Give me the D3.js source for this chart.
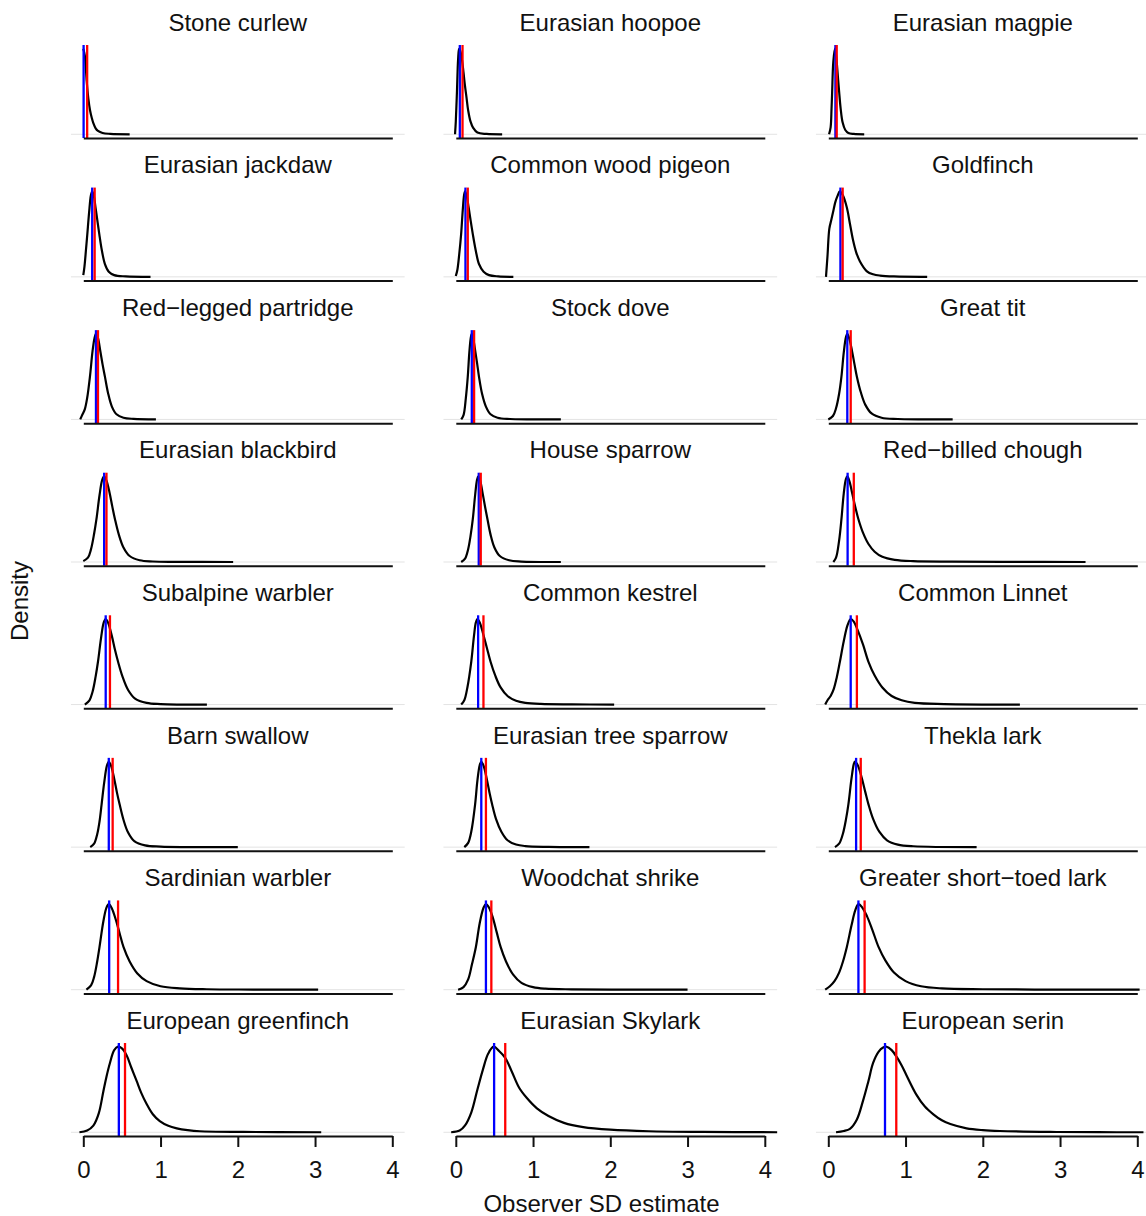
<!DOCTYPE html>
<html>
<head>
<meta charset="utf-8">
<script src="https://cdn.jsdelivr.net/npm/d3@7"></script>
<style>
  html, body { margin: 0; padding: 0; background: #fff; }
  svg { display: block; }
  text { font-family: "Liberation Sans", Arial, Helvetica, sans-serif; fill: #111; }
</style>
</head>
<body>
<svg id="chart" width="1146" height="1216"></svg>
<script>
// Species, in panel order (row by row, three per row)
const species = [
  "Stone curlew", "Eurasian hoopoe", "Eurasian magpie",
  "Eurasian jackdaw", "Common wood pigeon", "Goldfinch",
  "Red\u2212legged partridge", "Stock dove", "Great tit",
  "Eurasian blackbird", "House sparrow", "Red\u2212billed chough",
  "Subalpine warbler", "Common kestrel", "Common Linnet",
  "Barn swallow", "Eurasian tree sparrow", "Thekla lark",
  "Sardinian warbler", "Woodchat shrike", "Greater short\u2212toed lark",
  "European greenfinch", "Eurasian Skylark", "European serin"
];

// Posterior mode of the observer SD (blue line)
const modeSD = [
  0.004, 0.052, 0.092,
  0.115, 0.125, 0.157,
  0.164, 0.207, 0.246,
  0.27, 0.297, 0.25,
  0.29, 0.289, 0.29,
  0.33, 0.33, 0.36,
  0.335, 0.39, 0.39,
  0.46, 0.496, 0.734
];

// Posterior mean of the observer SD (red line)
const meanSD = [
  0.05, 0.087, 0.109,
  0.147, 0.155, 0.186,
  0.19, 0.237, 0.29,
  0.30, 0.323, 0.33,
  0.345, 0.358, 0.37,
  0.38, 0.39, 0.42,
  0.45, 0.46, 0.47,
  0.54, 0.64, 0.88
];

// Posterior density of each species' observer SD: [SD, relative density]
const densityCurves = [
  // Stone curlew
  [[0,1.0],[0.02,0.92],[0.044,0.62],[0.065,0.42],[0.087,0.28],[0.11,0.19],[0.13,0.13],[0.16,0.07],[0.19,0.04],[0.25,0.015],[0.35,0.005],[0.6,0]],
  // Eurasian hoopoe
  [[-0.01,0],[0.0,0.15],[0.015,0.5],[0.03,0.88],[0.043,1],[0.06,0.97],[0.08,0.87],[0.1,0.72],[0.117,0.58],[0.14,0.42],[0.16,0.28],[0.19,0.15],[0.225,0.075],[0.28,0.02],[0.4,0.004],[0.6,0]],
  // Eurasian magpie
  [[0.01,0],[0.03,0.08],[0.042,0.3],[0.05,0.5],[0.065,0.85],[0.086,1],[0.1,0.93],[0.115,0.78],[0.128,0.63],[0.14,0.5],[0.16,0.3],[0.185,0.14],[0.22,0.05],[0.26,0.015],[0.33,0.004],[0.465,0]],
  // Eurasian jackdaw
  [[0,0.02],[0.015,0.12],[0.035,0.32],[0.052,0.5],[0.075,0.75],[0.098,0.95],[0.115,1],[0.135,0.95],[0.16,0.8],[0.185,0.64],[0.207,0.5],[0.24,0.31],[0.28,0.15],[0.33,0.06],[0.4,0.02],[0.55,0.005],[0.87,0]],
  // Common wood pigeon
  [[0,0.01],[0.02,0.08],[0.045,0.27],[0.069,0.5],[0.09,0.78],[0.108,0.96],[0.12,1],[0.14,0.95],[0.165,0.82],[0.19,0.67],[0.22,0.5],[0.26,0.3],[0.3,0.15],[0.36,0.06],[0.43,0.02],[0.55,0.005],[0.745,0]],
  // Goldfinch
  [[-0.03,0],[-0.01,0.25],[0.013,0.56],[0.04,0.67],[0.065,0.77],[0.09,0.87],[0.117,0.94],[0.15,1],[0.19,0.95],[0.24,0.81],[0.28,0.62],[0.32,0.43],[0.36,0.29],[0.41,0.18],[0.5,0.065],[0.58,0.03],[0.67,0.015],[0.85,0.005],[1.28,0]],
  // Red-legged partridge
  [[-0.04,0],[-0.01,0.06],[0.02,0.12],[0.05,0.25],[0.086,0.5],[0.12,0.8],[0.145,0.95],[0.164,1],[0.19,0.95],[0.22,0.8],[0.25,0.64],[0.28,0.5],[0.32,0.31],[0.37,0.15],[0.43,0.06],[0.52,0.02],[0.65,0.006],[0.94,0]],
  // Stock dove
  [[0.07,0],[0.1,0.05],[0.13,0.25],[0.155,0.5],[0.175,0.78],[0.195,0.96],[0.207,1],[0.225,0.95],[0.25,0.81],[0.275,0.66],[0.3,0.5],[0.34,0.3],[0.39,0.15],[0.45,0.06],[0.54,0.02],[0.7,0.005],[1.36,0]],
  // Great tit
  [[0,0],[0.06,0.04],[0.1,0.13],[0.14,0.3],[0.17,0.5],[0.2,0.78],[0.228,0.96],[0.246,1],[0.27,0.95],[0.305,0.81],[0.34,0.64],[0.37,0.5],[0.42,0.32],[0.48,0.17],[0.56,0.07],[0.69,0.02],[0.9,0.005],[1.61,0]],
  // Eurasian blackbird
  [[0,0.01],[0.06,0.05],[0.1,0.15],[0.14,0.33],[0.17,0.5],[0.21,0.78],[0.245,0.96],[0.27,1],[0.3,0.95],[0.34,0.81],[0.375,0.65],[0.41,0.5],[0.46,0.32],[0.52,0.17],[0.6,0.07],[0.73,0.02],[0.9,0.006],[1.2,0.002],[1.94,0]],
  // House sparrow
  [[0.07,0],[0.12,0.04],[0.16,0.15],[0.19,0.3],[0.22,0.5],[0.25,0.78],[0.275,0.96],[0.29,1],[0.315,0.95],[0.35,0.79],[0.38,0.64],[0.41,0.5],[0.45,0.32],[0.5,0.17],[0.57,0.07],[0.69,0.02],[0.85,0.005],[1.36,0]],
  // Red-billed chough
  [[0.065,0],[0.1,0.05],[0.14,0.25],[0.17,0.5],[0.2,0.8],[0.228,0.97],[0.246,1],[0.275,0.94],[0.31,0.8],[0.35,0.64],[0.39,0.5],[0.45,0.34],[0.52,0.21],[0.6,0.12],[0.7,0.06],[0.86,0.025],[1.1,0.01],[1.6,0.004],[2.4,0.001],[3.33,0]],
  // Subalpine warbler
  [[0.02,0],[0.08,0.05],[0.12,0.15],[0.16,0.33],[0.19,0.5],[0.23,0.78],[0.265,0.96],[0.29,1],[0.32,0.96],[0.37,0.8],[0.41,0.64],[0.45,0.5],[0.51,0.32],[0.58,0.17],[0.67,0.07],[0.82,0.02],[1.0,0.006],[1.6,0]],
  // Common kestrel
  [[0.07,0],[0.11,0.05],[0.15,0.2],[0.2,0.5],[0.235,0.8],[0.26,0.96],[0.28,1],[0.31,0.96],[0.35,0.84],[0.4,0.67],[0.45,0.5],[0.51,0.34],[0.58,0.2],[0.67,0.1],[0.78,0.045],[0.9,0.02],[1.1,0.007],[1.5,0.002],[2.05,0]],
  // Common Linnet
  [[-0.04,0],[-0.01,0.05],[0.03,0.1],[0.07,0.18],[0.11,0.32],[0.15,0.5],[0.2,0.74],[0.25,0.93],[0.29,1],[0.33,0.97],[0.38,0.87],[0.45,0.7],[0.52,0.5],[0.6,0.34],[0.7,0.2],[0.82,0.1],[0.95,0.05],[1.12,0.02],[1.5,0.006],[2.48,0]],
  // Barn swallow
  [[0.09,0],[0.14,0.04],[0.18,0.15],[0.21,0.3],[0.237,0.5],[0.27,0.75],[0.305,0.95],[0.33,1],[0.36,0.95],[0.4,0.8],[0.435,0.64],[0.47,0.5],[0.52,0.32],[0.58,0.17],[0.66,0.07],[0.8,0.02],[1.0,0.006],[2.0,0]],
  // Eurasian tree sparrow
  [[0.11,0],[0.16,0.05],[0.2,0.18],[0.25,0.5],[0.28,0.78],[0.31,0.96],[0.33,1],[0.36,0.95],[0.4,0.8],[0.44,0.62],[0.47,0.5],[0.52,0.33],[0.59,0.18],[0.67,0.08],[0.78,0.03],[0.9,0.012],[1.2,0.003],[1.73,0]],
  // Thekla lark
  [[0.086,0],[0.14,0.04],[0.19,0.16],[0.23,0.33],[0.26,0.5],[0.3,0.8],[0.33,0.97],[0.345,1],[0.38,0.96],[0.43,0.82],[0.48,0.64],[0.52,0.5],[0.58,0.33],[0.66,0.18],[0.76,0.08],[0.9,0.03],[1.1,0.01],[1.92,0]],
  // Sardinian warbler
  [[0.04,0],[0.1,0.05],[0.14,0.15],[0.18,0.33],[0.21,0.5],[0.26,0.8],[0.3,0.96],[0.33,1],[0.37,0.95],[0.42,0.82],[0.47,0.66],[0.52,0.5],[0.6,0.33],[0.7,0.19],[0.82,0.1],[1.0,0.04],[1.25,0.015],[1.6,0.005],[2.2,0.002],[3.04,0]],
  // Woodchat shrike
  [[0.03,0],[0.1,0.03],[0.16,0.12],[0.21,0.3],[0.26,0.5],[0.31,0.78],[0.36,0.96],[0.39,1],[0.43,0.96],[0.48,0.84],[0.53,0.67],[0.58,0.5],[0.65,0.33],[0.74,0.18],[0.85,0.08],[1.0,0.03],[1.16,0.012],[1.5,0.004],[2.2,0.001],[3.0,0]],
  // Greater short-toed lark
  [[-0.04,0],[0.02,0.04],[0.08,0.1],[0.14,0.2],[0.19,0.33],[0.24,0.5],[0.3,0.75],[0.35,0.93],[0.39,1],[0.44,0.96],[0.5,0.86],[0.57,0.7],[0.65,0.5],[0.74,0.34],[0.85,0.2],[1.0,0.1],[1.2,0.04],[1.47,0.015],[2.0,0.005],[3.0,0.001],[4.03,0]],
  // European greenfinch
  [[-0.05,0],[0.05,0.02],[0.13,0.077],[0.2,0.22],[0.26,0.48],[0.3,0.65],[0.345,0.81],[0.4,0.96],[0.45,1],[0.5,0.98],[0.56,0.9],[0.62,0.76],[0.69,0.6],[0.75,0.46],[0.82,0.33],[0.9,0.21],[0.99,0.13],[1.1,0.075],[1.21,0.046],[1.35,0.025],[1.51,0.012],[2.07,0.004],[3.08,0]],
  // Eurasian Skylark
  [[-0.06,0],[0.05,0.02],[0.12,0.08],[0.2,0.23],[0.28,0.5],[0.35,0.73],[0.42,0.92],[0.49,1],[0.56,0.95],[0.64,0.87],[0.72,0.72],[0.82,0.52],[0.92,0.4],[1.05,0.28],[1.2,0.19],[1.4,0.11],[1.65,0.06],[2.0,0.03],[2.5,0.012],[3.2,0.004],[4.16,0]],
  // European serin
  [[0.1,0],[0.2,0.015],[0.28,0.04],[0.37,0.15],[0.45,0.37],[0.52,0.6],[0.58,0.81],[0.65,0.94],[0.71,0.99],[0.755,1],[0.82,0.96],[0.885,0.88],[0.95,0.78],[1.01,0.67],[1.14,0.44],[1.25,0.3],[1.36,0.21],[1.47,0.14],[1.58,0.096],[1.79,0.046],[2.0,0.025],[2.22,0.015],[2.87,0.004],[3.5,0.001],[4.08,0]]
];

// Axis ticks on the bottom row
const xTicks = [0, 1, 2, 3, 4];
const xDomain = [0, 4];

const xTitle = "Observer SD estimate";
const yTitle = "Density";

// ---- layout ----
const nCols = 3, nRows = 8;
const colX0 = 83.3, colStep = 372.5, axisWidth = 309;
const rowAxis0 = 138, rowStep = 142.57;
const plotH = 93;                  // height of each plotting region
const pad = 0.04;                  // R-style 4% axis padding
const fontSize = 24;

const svg = d3.select("#chart");
svg.append("rect").attr("width", 1146).attr("height", 1216).attr("fill", "#fff");

species.forEach((name, i) => {
  const col = i % nCols, row = Math.floor(i / nCols);
  const x0 = colX0 + col * colStep;
  const axisY = rowAxis0 + row * rowStep;
  const isBottom = row === nRows - 1;

  const span = xDomain[1] - xDomain[0];
  const x = d3.scaleLinear().domain(xDomain).range([x0, x0 + axisWidth]);
  const xLo = xDomain[0] - pad * span, xHi = xDomain[1] + pad * span;

  const pts = densityCurves[i];
  const yMax = d3.max(pts, d => d[1]);
  const top = axisY - plotH;
  const y = d3.scaleLinear()
    .domain([0, yMax])
    .range([axisY - pad * plotH, top + pad * plotH]);

  const g = svg.append("g");

  // zero-density reference line
  g.append("line")
    .attr("x1", x(xLo)).attr("x2", x(xHi))
    .attr("y1", y(0)).attr("y2", y(0))
    .attr("stroke", "#e3e3e3").attr("stroke-width", 1);

  // density curve (smooth line through the read points, kept above zero)
  const line = d3.line()
    .x(d => x(d[0])).y(d => y(d[1]))
    .curve(d3.curveCatmullRom.alpha(0.5));
  g.append("path")
    .datum(pts)
    .attr("d", line)
    .attr("fill", "none")
    .attr("stroke", "#000")
    .attr("stroke-width", 2.2)
    .attr("stroke-linejoin", "round");

  // mode (blue) and mean (red) markers spanning the plotting region
  [[modeSD[i], "#0000ff"], [meanSD[i], "#ff0000"]].forEach(([v, c]) => {
    g.append("line")
      .attr("x1", x(v)).attr("x2", x(v))
      .attr("y1", top).attr("y2", axisY)
      .attr("stroke", c).attr("stroke-width", 2.3);
  });

  // x axis
  const axis = d3.axisBottom(x)
    .tickValues(xTicks)
    .tickSizeOuter(0)
    .tickSizeInner(isBottom ? 11 : 0)
    .tickPadding(isBottom ? 14 : 0)
    .tickFormat(isBottom ? d3.format("d") : () => "");
  const ag = g.append("g")
    .attr("transform", `translate(0,${axisY})`)
    .call(axis);
  ag.select(".domain").attr("stroke", "#111").attr("stroke-width", 2);
  ag.selectAll(".tick line").attr("stroke", "#111").attr("stroke-width", 2);
  ag.selectAll(".tick text")
    .attr("font-size", fontSize)
    .attr("font-family", "Liberation Sans, Arial, sans-serif")
    .attr("fill", "#111");

  // panel title
  g.append("text")
    .attr("x", x((xDomain[0] + xDomain[1]) / 2))
    .attr("y", axisY - 107.3)
    .attr("text-anchor", "middle")
    .attr("font-size", fontSize)
    .text(name);
});

// axis titles
svg.append("text")
  .attr("x", 601.5).attr("y", 1212)
  .attr("text-anchor", "middle")
  .attr("font-size", fontSize)
  .text(xTitle);

svg.append("text")
  .attr("transform", "translate(28,601) rotate(-90)")
  .attr("text-anchor", "middle")
  .attr("font-size", fontSize)
  .text(yTitle);
</script>
</body>
</html>
